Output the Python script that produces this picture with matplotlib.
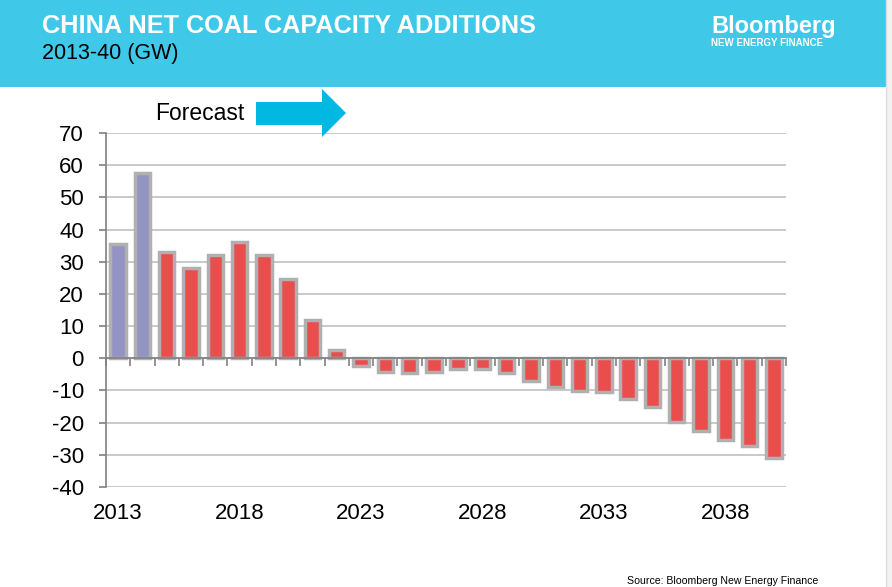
"""
China net coal capacity additions, 2013-40 (GW) - BNEF style slide
"""

import numpy as np
import matplotlib
matplotlib.use('Agg')
import matplotlib.pyplot as plt
from matplotlib.patches import Polygon, Rectangle

plt.rcParams['font.family'] = ['Liberation Sans', 'DejaVu Sans']
plt.rcParams['axes.unicode_minus'] = False

years = list(range(2013, 2041))
values = [35.5, 57.5, 33, 28, 32, 36, 32, 24.5, 12, 2.5,
          -2.3, -4.2, -4.5, -4.2, -3.2, -3.2, -4.5, -7, -8.8, -10.3,
          -10.5, -12.6, -15, -19.8, -22.6, -25.4, -27.3, -31]
n_hist = 2  # 2013-14 are actuals, rest forecast
label_years = [2013, 2018, 2023, 2028, 2033, 2038]
yticks = list(range(-40, 80, 10))

W, H = 892, 587
fig = plt.figure(figsize=(W / 100, H / 100), dpi=100)
fig.patch.set_facecolor('white')

def px(x, y):
    # pixel (top-left origin) -> figure fraction
    return x / W, 1 - y / H

# header band
fig.patches.append(Rectangle((0, 1 - 87 / H), 1, 87 / H, transform=fig.transFigure,
                             facecolor='#3fc8e8', edgecolor='none', zorder=0))
fig.text(*px(42, 26), "CHINA NET COAL CAPACITY ADDITIONS", color='white',
         fontsize=18.2, fontweight='bold', va='center', ha='left')
fig.text(*px(42, 53), "2013-40 (GW)", color='black', fontsize=15.5, va='center', ha='left')
fig.text(*px(711, 32.5), "Bloomberg", color='white', fontsize=17, fontweight='bold',
         va='baseline', ha='left')
fig.text(*px(711, 37.5), "NEW ENERGY FINANCE", color='white', fontsize=7,
         fontweight='bold', va='top', ha='left')

# right page edge
fig.patches.append(Rectangle(px(886, 587), 6 / W, 1, transform=fig.transFigure,
                             facecolor='#f2f2f2', edgecolor='none', zorder=1))
fig.lines.append(plt.Line2D([886 / W, 886 / W], [0, 1], transform=fig.transFigure,
                            color='#dcdcdc', lw=1))

# forecast arrow
arrow_pts = [(256, 102), (322, 102), (322, 89), (346, 113), (322, 137), (322, 125), (256, 125)]
fig.patches.append(Polygon([px(x, y) for x, y in arrow_pts], closed=True,
                           transform=fig.transFigure, facecolor='#00b8e2', edgecolor='none'))
fig.text(*px(155, 113), "Forecast", color='black', fontsize=16.5, va='center', ha='left')

# source
fig.text(*px(627, 586), "Source: Bloomberg New Energy Finance", color='black',
         fontsize=7.6, va='bottom', ha='left')

# chart
ax = fig.add_axes([106 / W, 1 - 487 / H, 680 / W, 354 / H])
x = np.arange(len(years))
colors = ['#9494c4'] * n_hist + ['#ea4e4c'] * (len(years) - n_hist)
ax.bar(x, values, width=0.64, color=colors, edgecolor='#b0b0b0', linewidth=2.5, zorder=3)

ax.set_xlim(-0.5, len(years) - 0.5)
ax.set_ylim(-40, 70)
ax.set_yticks(yticks)
ax.grid(True, axis='y', color='#c0c0c0', linewidth=1.2, zorder=0)
ax.set_axisbelow(True)

for s in ['top', 'right']:
    ax.spines[s].set_visible(False)
ax.spines['left'].set_color('#808080')
ax.spines['left'].set_linewidth(1.2)
ax.spines['bottom'].set_position(('data', 0))
ax.spines['bottom'].set_color('#808080')
ax.spines['bottom'].set_linewidth(1.2)
ax.spines['bottom'].set_zorder(4)

ax.set_xticks(np.arange(len(years) + 1) - 0.5)
ax.tick_params(axis='x', length=6, width=1.2, color='#808080', direction='out', labelbottom=False)
ax.tick_params(axis='y', length=5, width=1.2, color='#808080', pad=11, labelsize=16)

for yr in label_years:
    ax.text(years.index(yr), -0.076, str(yr), transform=ax.get_xaxis_transform(),
            ha='center', va='center', fontsize=16)

fig.savefig("out.png", dpi=100)
